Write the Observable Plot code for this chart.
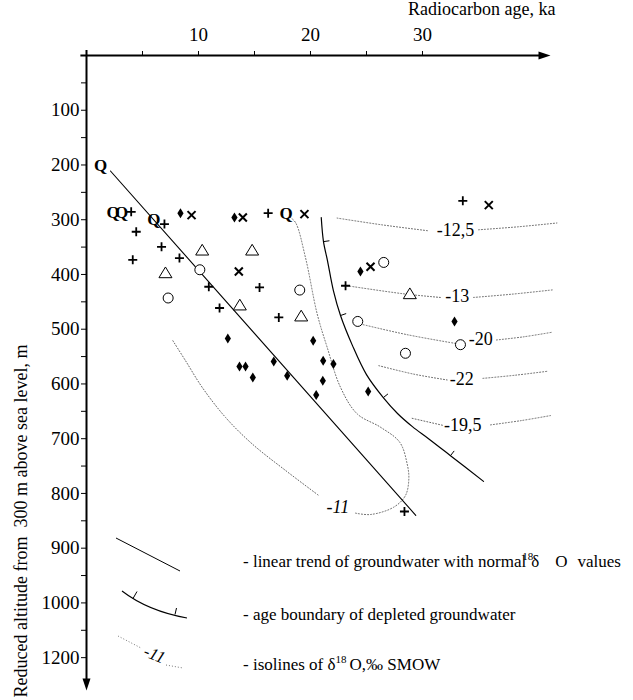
<!DOCTYPE html>
<html><head><meta charset="utf-8">
<script src="https://cdn.jsdelivr.net/npm/d3@7"></script>
<script src="https://cdn.jsdelivr.net/npm/@observablehq/plot@0.6"></script>
<style>
body{margin:0;background:#fff;}
#wrap{position:relative;width:633px;height:700px;}
#legend{position:absolute;left:0;top:0;pointer-events:none;}
#legend text{font-family:"Liberation Serif","Times New Roman",serif;font-size:17px;fill:#000;}
</style></head><body>
<div id="wrap">
<svg id="legend" width="633" height="700" xmlns="http://www.w3.org/2000/svg">
  <line x1="116" y1="538" x2="180" y2="571" stroke="#000" stroke-width="1"/>
  <text x="243" y="567">- linear trend of groundwater with normal<tspan dx="-4" dy="-7" font-size="11">18</tspan><tspan dx="-2" dy="7">δ</tspan><tspan dx="16">O</tspan><tspan dx="10">values</tspan></text>
  <path d="M122,591 Q148,611 187,618" fill="none" stroke="#000" stroke-width="1.1"/>
  <line x1="133" y1="598.5" x2="137" y2="591.5" stroke="#000" stroke-width="1"/>
  <line x1="175" y1="614.5" x2="176.5" y2="608" stroke="#000" stroke-width="1"/>
  <text x="243" y="620">- age boundary of depleted groundwater</text>
  <path d="M118,636 L141,648" fill="none" stroke="#777" stroke-width="1" stroke-dasharray="1 2"/>
  <text x="154" y="656" font-style="italic" text-anchor="middle" dominant-baseline="middle" transform="rotate(22 154 656)" style="font-size:17px">-11</text>
  <path d="M166,665 L183,668" fill="none" stroke="#777" stroke-width="1" stroke-dasharray="1 2"/>
  <text x="243" y="670">- isolines of δ<tspan dy="-7" font-size="11">18</tspan><tspan dy="7" dx="3">O,‰ SMOW</tspan></text>
</svg>
</div>
<script>
// ---- axis ticks ----
const xTicks = [0, 5, 10, 15, 20, 25, 30];
const xTickLabels = ["", "", "10", "", "20", "", "30"];
const yTicks = [50, 100, 150, 200, 250, 300, 350, 400, 450, 500, 550, 600, 650, 700, 750, 800, 850, 900, 950, 1000, 1050, 1100];
const yTickLabels = ["", "100", "", "200", "", "300", "", "400", "", "500", "", "600", "", "700", "", "800", "", "900", "", "1000", "", "1200"];

// ---- sample points: [age ka, reduced altitude m] ----
const qPoints = [[1.25, 201.6], [2.38, 286.9], [3.13, 286.9], [6.01, 300.2], [17.83, 288]];
const plusPoints = [[3.99, 285.6], [6.96, 308], [16.22, 288], [4.44, 322], [6.70, 349.5], [4.13, 373.2], [8.30, 370],
  [10.92, 422.4], [15.45, 423.7], [11.88, 461.3], [17.17, 478.5], [23.13, 420.6], [33.6, 265.5], [28.39, 833]];
const diamondPoints = [[8.39, 288], [13.21, 296], [12.62, 516.8], [20.24, 521], [16.72, 558.8], [13.66, 567.9], [14.2, 567.9],
  [21.13, 557.5], [22.05, 563.5], [14.85, 588], [17.92, 584.9], [21.1, 594], [20.51, 620], [24.46, 394.5], [25.15, 614], [32.86, 485.8]];
const crossPoints = [[9.38, 291.6], [13.96, 296], [19.46, 289.8], [13.6, 394.5], [25.36, 386], [35.92, 273.4]];
const trianglePoints = [[10.33, 355], [14.79, 355], [7.05, 396.4], [13.69, 455.3], [19.17, 475.4], [28.87, 434.7]];
const circlePoints = [[10.12, 391.4], [7.29, 443], [19.04, 428.5], [24.22, 485.8], [26.54, 378], [28.48, 544], [33.39, 528.3]];

// ---- linear trend ----
const trendX = [2.14, 29.4];
const trendY = [211, 840];

// ---- age boundary of depleted groundwater ----
const boundary = [[20.96, 296], [21.16, 340], [21.52, 375], [22.05, 430], [22.68, 475], [23.75, 530], [25.0, 583],
  [26.5, 625], [27.77, 654], [29.1, 678], [30.54, 700], [32.5, 731], [35.45, 778]];
const boundaryTickIdx = [1, 4, 7, 11];

// ---- isolines of d18O ----
const iso11Left = [[7.71, 521], [8.84, 557.5], [10.33, 606.2], [12.41, 661], [14.79, 709.5], [17.77, 758], [20.74, 803.8]];
const iso11Right = [[24.02, 836], [25.36, 838.5], [27.44, 825], [28.48, 803.8], [28.78, 773.4], [28.63, 746], [27.97, 706.6],
  [26.25, 679], [24.17, 654.7], [22.68, 606.2], [21.49, 533.2], [20.6, 472.3], [19.55, 369], [18.66, 305], [18.13, 294.7]];
const iso125Left = [[22.38, 297], [26.43, 309.5], [30.54, 320.3]];
const iso125Right = [[35.0, 318.4], [38.5, 313], [42.0, 306]];
const iso13Left = [[23.27, 420.6], [28.3, 435.3], [31.6, 442]];
const iso13Right = [[34.55, 442], [38, 436], [41.7, 428]];
const iso20Left = [[24.46, 490.5], [28.63, 510], [32.95, 526]];
const iso20Right = [[36.6, 519.7], [39, 514], [41.5, 505.8]];
const iso22Left = [[26.1, 566.6], [29.2, 582], [32.2, 592.7]];
const iso22Right = [[35.4, 589.8], [38.3, 584], [41.1, 577]];
const iso195Left = [[29.08, 662.8], [31.9, 676]];
const iso195Right = [[36.07, 674.8], [38.8, 667], [41.43, 657.8]];
const isoLabels = ["-12,5", "-13", "-20", "-22", "-19,5"];
const isoLabelPos = [[32.95, 318.5], [33.1, 438.9], [35.2, 519], [33.5, 591], [33.6, 676]];
const iso11Label = "-11";
const iso11LabelPos = [22.44, 825];

// ---- layout ----
const W = 633, H = 700;
const xDomain = [0, 41.43], xRange = [86, 550];
const yDomain = [0, 1160], yRange = [55, 690];
const kx = (xRange[1] - xRange[0]) / (xDomain[1] - xDomain[0]);
const ky = (yRange[1] - yRange[0]) / (yDomain[1] - yDomain[0]);
const serif = '"Liberation Serif", "Times New Roman", serif';

// symbols
const sym = (fn) => ({draw(c, size) { fn(c, Math.sqrt(size / Math.PI)); }});
const plusSym = sym((c, r) => { c.moveTo(-r, 0); c.lineTo(r, 0); c.moveTo(0, -r); c.lineTo(0, r); });
const timesSym = sym((c, r) => { c.moveTo(-r, -r); c.lineTo(r, r); c.moveTo(r, -r); c.lineTo(-r, r); });
const diamondSym = sym((c, r) => { c.moveTo(0, -r); c.lineTo(r * 0.62, 0); c.lineTo(0, r); c.lineTo(-r * 0.62, 0); c.closePath(); });
const triSym = sym((c, r) => { c.moveTo(0, -0.85 * r); c.lineTo(r, 0.8 * r); c.lineTo(-r, 0.8 * r); c.closePath(); });
const arrowRight = sym((c, r) => { c.moveTo(0, 0); c.lineTo(-3 * r, -r); c.lineTo(-3 * r, r); c.closePath(); });
const arrowDown = sym((c, r) => { c.moveTo(0, 0); c.lineTo(-r, -3 * r); c.lineTo(r, -3 * r); c.closePath(); });

// boundary ticks (perpendicular, pointing to the depleted side)
const boundaryTicks = boundaryTickIdx.map(i => {
  const a = boundary[i - 1], b = boundary[i + 1], p = boundary[i];
  const tx = (b[0] - a[0]) * kx, ty = (b[1] - a[1]) * ky;
  const len = Math.hypot(tx, ty);
  const nx = ty / len, ny = -tx / len;
  const L = 6;
  return {x1: p[0], y1: p[1], x2: p[0] + nx * L / kx, y2: p[1] + ny * L / ky};
});

const X = d => d[0], Y = d => d[1];
const isoStyle = {x: X, y: Y, stroke: "#666", strokeWidth: 1, strokeDasharray: "1 2", curve: "catmull-rom"};
const isoSegs = [iso11Left, iso11Right, iso125Left, iso125Right, iso13Left, iso13Right, iso20Left, iso20Right, iso22Left, iso22Right, iso195Left, iso195Right];

const chart = Plot.plot({
  width: W, height: H,
  marginLeft: 86, marginRight: 83, marginTop: 55, marginBottom: 10,
  style: {fontFamily: serif, fontSize: "19px", background: "transparent", color: "#000", overflow: "visible"},
  x: {domain: xDomain, range: xRange, axis: "top", ticks: xTicks, tickFormat: d => xTickLabels[xTicks.indexOf(d)], tickSize: 5, tickPadding: 10, label: null},
  y: {domain: yDomain, range: yRange, axis: "left", ticks: yTicks, tickFormat: d => yTickLabels[yTicks.indexOf(d)], tickSize: 5, tickPadding: 2, label: null},
  marks: [
    // axes lines
    Plot.ruleY([0], {x1: -0.5, x2: 41.0, stroke: "#000", strokeWidth: 2}),
    Plot.ruleX([0], {y1: -9, y2: 1150, stroke: "#000", strokeWidth: 2}),
    Plot.dot([[xDomain[1], 0]], {x: X, y: Y, symbol: arrowRight, r: 4, fill: "#000", stroke: "none"}),
    Plot.dot([[0, yDomain[1]]], {x: X, y: Y, symbol: arrowDown, r: 4, fill: "#000", stroke: "none"}),
    // axis titles
    Plot.text(["Radiocarbon age, ka"], {frameAnchor: "top-right", textAnchor: "end", dx: 5, dy: -41, lineAnchor: "bottom", fontSize: 18, fontFamily: serif}),
    Plot.text(["Reduced altitude from  300 m above sea level, m"], {frameAnchor: "bottom-left", rotate: -90, textAnchor: "start", lineAnchor: "bottom", dx: -60, dy: 7, fontSize: 18, fontFamily: serif}),
    // isolines
    ...isoSegs.map(seg => Plot.line(seg, isoStyle)),
    Plot.text(isoLabelPos, {x: X, y: Y, text: (d, i) => isoLabels[i], fontSize: 18, fontFamily: serif}),
    Plot.text([iso11LabelPos], {x: X, y: Y, text: () => iso11Label, fontSize: 18, fontStyle: "italic", fontFamily: serif}),
    // trend line
    Plot.line(trendX.map((x, i) => [x, trendY[i]]), {x: X, y: Y, stroke: "#000", strokeWidth: 1.1}),
    // age boundary
    Plot.line(boundary, {x: X, y: Y, stroke: "#000", strokeWidth: 1.2, curve: "catmull-rom"}),
    Plot.link(boundaryTicks, {x1: "x1", y1: "y1", x2: "x2", y2: "y2", stroke: "#000", strokeWidth: 1}),
    // samples
    Plot.dot(circlePoints, {x: X, y: Y, symbol: "circle", r: 5, fill: "#fff", stroke: "#000", strokeWidth: 1}),
    Plot.dot(trianglePoints, {x: X, y: Y, symbol: triSym, r: 6.5, fill: "#fff", stroke: "#000", strokeWidth: 1}),
    Plot.dot(plusPoints, {x: X, y: Y, symbol: plusSym, r: 4.5, fill: "none", stroke: "#000", strokeWidth: 1.8}),
    Plot.dot(crossPoints, {x: X, y: Y, symbol: timesSym, r: 4, fill: "none", stroke: "#000", strokeWidth: 2}),
    Plot.dot(diamondPoints, {x: X, y: Y, symbol: diamondSym, r: 5, fill: "#000", stroke: "none"}),
    Plot.text(qPoints, {x: X, y: Y, text: () => "Q", fontSize: 17, fontWeight: "bold", fontFamily: serif})
  ]
});
chart.style.position = "absolute";
chart.style.left = "0";
chart.style.top = "0";
document.getElementById("wrap").prepend(chart);
</script>
</body></html>
